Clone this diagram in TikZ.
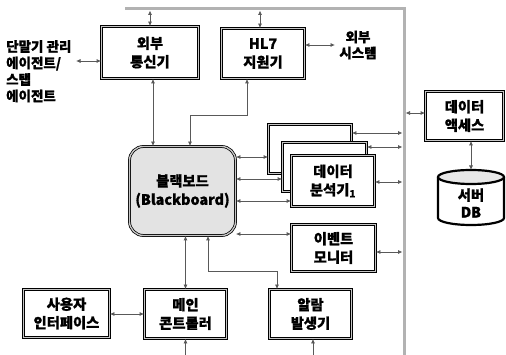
\documentclass[tikz,border=0pt]{standalone}
\usepackage{fontspec}
\setmainfont{Noto Sans CJK KR}[BoldFeatures={FakeBold=0.8}]
\usetikzlibrary{arrows.meta}
\begin{document}
\begin{tikzpicture}[x=1pt,y=-1pt,
  box/.style={draw=black, line width=0.75pt, double=gray!45, double distance=1.3pt, fill=white, align=center, font=\bfseries\fontsize{14.3}{18.5}\selectfont, inner sep=0pt},
  conn/.style={draw=gray!70!black, line width=0.75pt, {Latex[length=4.5pt,width=4pt]}-{Latex[length=4.5pt,width=4pt]}},
  conntip/.style={draw=gray!70!black, line width=0.75pt, {Latex[length=4.5pt,width=4pt]}-},
  bus/.style={draw=gray!60, line width=3pt},
  lbl/.style={align=left, font=\bfseries\fontsize{13.5}{16.5}\selectfont, inner sep=0pt},
  lblc/.style={align=center, font=\bfseries\fontsize{13.5}{16}\selectfont, inner sep=0pt}]
\useasboundingbox (0,0) rectangle (506,355);

% bus
\coordinate (busL) at (125,9);
\coordinate (busC) at (404,9);
\coordinate (busB) at (404,356);
\draw[bus] (busL) -- (busC) -- (busB);

% nodes
\node[box, minimum width=97pt, minimum height=52pt] (ext) at (150,52.5) {외부\\통신기};
\node[box, minimum width=83pt, minimum height=50pt] (hl7) at (263,53.5) {HL7\\지원기};
\node[lbl, anchor=north west] (term) at (6,40) {단말기 관리\\에이전트/\\스탭\\에이전트};
\node[lblc] (extsys) at (358,45) {외부\\시스템};

\node[box, rounded corners=14pt, fill=gray!22, minimum width=106pt, minimum height=89pt] (bb) at (182.5,191) {블랙보드\\(Blackboard)};

\node[box, minimum width=83pt, minimum height=49pt] (da1) at (310,149) {};
\node[box, minimum width=84pt, minimum height=49pt] (da2) at (324.5,167) {};
\node[box, minimum width=83pt, minimum height=51pt] (da3) at (333,181) {데이터\\분석기\textsubscript{1}};

\node[box, minimum width=84pt, minimum height=47pt] (em) at (333.5,248) {이벤트\\모니터};
\node[box, minimum width=78pt, minimum height=49pt] (acc) at (464.5,116) {데이터\\액세스};

\node[box, minimum width=86pt, minimum height=48pt] (ui) at (66.5,313.5) {사용자\\인터페이스};
\node[box, minimum width=82pt, minimum height=49pt] (main) at (185.5,314) {메인\\콘트롤러};
\node[box, minimum width=82pt, minimum height=49pt] (alarm) at (310.5,314) {알람\\발생기};

% DB cylinder
\draw[line width=2.2pt, fill=white] (438,177) -- (438,218) arc[start angle=180, end angle=0, x radius=33, y radius=7] -- (504,177);
\draw[line width=2.2pt, fill=gray!18] (471,177) ellipse [x radius=33, y radius=7];
\node[lblc, font=\bfseries\fontsize{14.3}{17}\selectfont] (db) at (471,203) {서버\\DB};
\coordinate (dbtop) at (471,170);

% coordinates for connectors
\coordinate (termR) at (76,61);
\coordinate (extsysL) at (335,45);
\coordinate (hlbend) at (190,115);
\coordinate (yA) at (0,157);
\coordinate (yB) at (0,179);
\coordinate (yC) at (0,201);
\coordinate (rA) at (402.5,133);
\coordinate (rB) at (402.5,147);
\coordinate (rC) at (402.5,182);
\coordinate (yE) at (0,234);
\coordinate (rE) at (402.5,252);
\coordinate (accL) at (405.5,113);
\coordinate (albend) at (208,271);
\coordinate (albend2) at (277,271);
\coordinate (uiy) at (0,314);
\coordinate (botM) at (185.5,357);
\coordinate (botA) at (313,357);
\coordinate (busY) at (0,10.5);

% connectors
\draw[conn] (ext.north |- busY) -- (ext.north);
\draw[conn] ([xshift=-3pt]hl7.north |- busY) -- ([xshift=-3pt]hl7.north);
\draw[conn] (termR) -- (termR -| ext.west);
\draw[conn] (hl7.east |- extsysL) -- (extsysL);
\draw[conn] ([xshift=3pt]ext.south) -- ([xshift=3pt]ext.south |- bb.north);
\draw[conn] ([xshift=-16pt]hl7.south) |- (hlbend) -- (hlbend |- bb.north);

\draw[conn] (bb.east |- yA) -- (da1.west |- yA);
\draw[conn] (bb.east |- yB) -- (da2.west |- yB);
\draw[conn] (bb.east |- yC) -- (da3.west |- yC);
\draw[conn] (da1.east |- rA) -- (rA);
\draw[conn] (da2.east |- rB) -- (rB);
\draw[conn] (da3.east |- rC) -- (rC);

\draw[conn] (bb.east |- yE) -- (em.west |- yE);
\draw[conn] (em.east |- rE) -- (rE);
\draw[conn] (accL) -- (accL -| acc.west);
\draw[conn] (acc.south -| dbtop) -- (dbtop);

\draw[conn] (ui.east |- uiy) -- (main.west |- uiy);
\draw[conn] (main.north) -- (main.north |- bb.south);
\draw[conn] (albend |- bb.south) -- (albend) -- (albend2) -- (albend2 |- alarm.north);
\draw[conntip] (main.south) -- (botM);
\draw[conntip] (alarm.south -| botA) -- (botA);
\end{tikzpicture}
\end{document}
